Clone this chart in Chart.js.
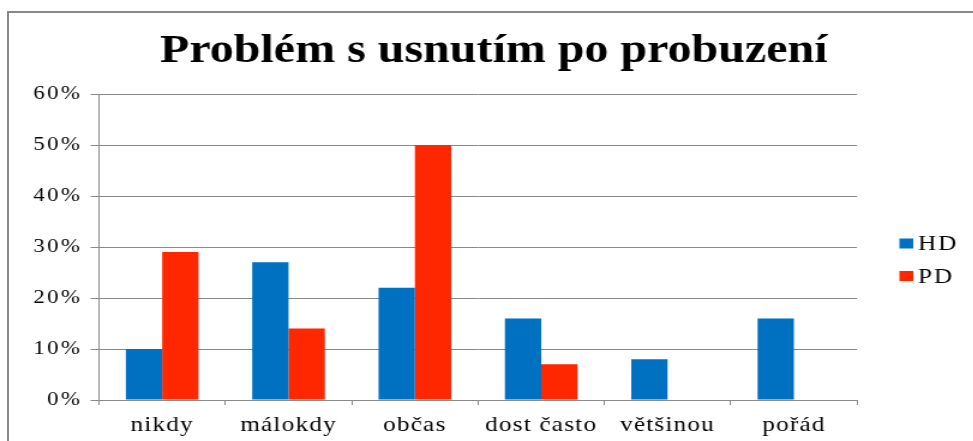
<!DOCTYPE html>
<html>
<head>
<meta charset="utf-8">
<script src="https://cdn.jsdelivr.net/npm/chart.js@4/dist/chart.umd.min.js"></script>
<style>
  html, body { margin: 0; padding: 0; background: #fff; overflow: hidden; width: 973px; height: 441px; }
  #frame { position: absolute; left: 7px; top: 11px; width: 1100px; height: 700px; border: 2px solid #888; box-sizing: border-box; }
  #wrap { position: absolute; left: 0; top: 0; width: 811px; height: 441px; transform: scaleX(1.2); transform-origin: 0 0; }
</style>
</head>
<body>
<div id="frame"></div>
<div id="wrap"><canvas id="c"></canvas></div>
<script>
// Survey answers: how often it is hard to fall asleep again after waking
const categories = ['nikdy', 'málokdy', 'občas', 'dost často', 'většinou', 'pořád'];
const hdValues = [10, 27, 22, 16, 8, 16];   // HD group, %
const pdValues = [29, 14, 50, 7, 0, 0];     // PD group, %
const yTickValues = [0, 10, 20, 30, 40, 50, 60];
const seriesNames = ['HD', 'PD'];
const chartTitle = 'Problém s usnutím po probuzení';

const BLUE = '#0070C0';
const RED = '#FF2700';
const GRID = '#8a8a8a';

Chart.defaults.font.family = '"Liberation Serif", "Times New Roman", serif';
Chart.defaults.color = '#000';

// Wider tracking for axis labels (category labels drawn before the bars, value labels after)
const tracking = {
  id: 'tracking',
  beforeDraw(chart) { chart.ctx.letterSpacing = '1px'; },
  afterDatasetsDraw(chart) { chart.ctx.letterSpacing = '2px'; },
  afterDraw(chart) { chart.ctx.letterSpacing = '0px'; }
};

// Heading drawn above the plot
const heading = {
  id: 'heading',
  afterDraw(chart, args, opts) {
    const ctx = chart.ctx;
    ctx.save();
    ctx.letterSpacing = '0px';
    ctx.font = 'bold 40px "Liberation Serif", serif';
    ctx.fillStyle = '#000';
    ctx.textAlign = 'center';
    ctx.textBaseline = 'alphabetic';
    ctx.fillText(opts.text, opts.x, opts.y);
    ctx.restore();
  }
};

// Series key on the right side
const sideLegend = {
  id: 'sideLegend',
  afterDraw(chart, args, opts) {
    const ctx = chart.ctx;
    ctx.save();
    ctx.letterSpacing = '1.5px';
    ctx.font = '21px "Liberation Serif", serif';
    ctx.textAlign = 'left';
    ctx.textBaseline = 'middle';
    chart.data.datasets.forEach((ds, i) => {
      const cy = opts.top + i * opts.step;
      ctx.fillStyle = ds.backgroundColor;
      ctx.fillRect(opts.x, cy - opts.boxH / 2, opts.boxW, opts.boxH);
      ctx.fillStyle = '#000';
      ctx.fillText(ds.label, opts.x + opts.boxW + opts.gap, cy + 1);
    });
    ctx.restore();
  }
};

new Chart(document.getElementById('c'), {
  type: 'bar',
  data: {
    labels: categories,
    datasets: [
      { label: seriesNames[0], data: hdValues, backgroundColor: BLUE, borderWidth: 0 },
      { label: seriesNames[1], data: pdValues, backgroundColor: RED, borderWidth: 0 }
    ]
  },
  options: {
    responsive: true,
    maintainAspectRatio: false,
    animation: false,
    devicePixelRatio: 1,
    layout: { padding: { top: 94, right: 96.8, bottom: 0, left: 0 } },
    datasets: { bar: { categoryPercentage: 0.575, barPercentage: 1.0 } },
    plugins: {
      legend: { display: false },
      title: { display: false },
      tooltip: { enabled: false },
      heading: { text: chartTitle, x: 411.5, y: 62 },
      sideLegend: { x: 749.5, top: 243.5, step: 32.5, boxW: 11.5, boxH: 10, gap: 4 }
    },
    scales: {
      x: {
        grid: { display: true, drawOnChartArea: false, drawTicks: true, tickLength: 5, color: GRID, offset: true },
        border: { display: true, color: GRID, width: 1 },
        ticks: { font: { size: 21 }, color: '#000', padding: 8, maxRotation: 0, autoSkip: false },
        afterFit(scale) { scale.height = 41; }
      },
      y: {
        min: 0,
        max: 60,
        afterBuildTicks(scale) { scale.ticks = yTickValues.map(v => ({ value: v })); },
        grid: { color: GRID, lineWidth: 1, drawTicks: true, tickLength: 7 },
        border: { display: true, color: GRID, width: 1 },
        ticks: { font: { size: 19 }, color: '#000', padding: 7, z: 1, callback: v => v + '%' },
        afterFit(scale) { scale.width = 82.5; }
      }
    }
  },
  plugins: [tracking, heading, sideLegend]
});
</script>
</body>
</html>
